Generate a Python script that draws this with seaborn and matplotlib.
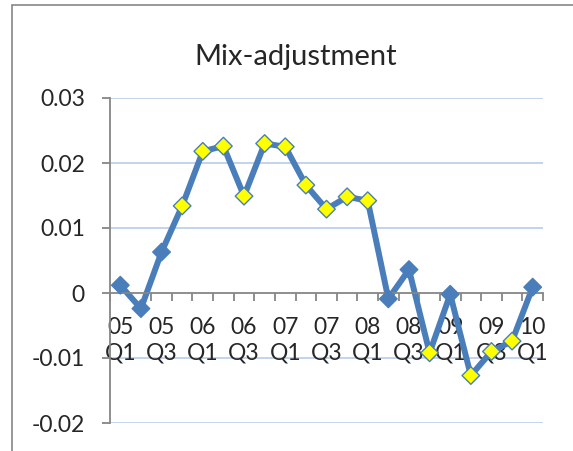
import pandas as pd
import matplotlib.pyplot as plt
import matplotlib.patches as mpatches
import seaborn as sns

# -------------------------------------------------
# data
quarters = ["05Q1", "05Q2", "05Q3", "05Q4", "06Q1", "06Q2", "06Q3", "06Q4",
            "07Q1", "07Q2", "07Q3", "07Q4", "08Q1", "08Q2", "08Q3", "08Q4",
            "09Q1", "09Q2", "09Q3", "09Q4", "10Q1"]
values = [0.0012, -0.0024, 0.0063, 0.0134, 0.0218, 0.0226, 0.0149, 0.0230,
          0.0225, 0.0166, 0.0129, 0.0148, 0.0142, -0.0009, 0.0036, -0.0092,
          -0.0002, -0.0127, -0.0090, -0.0074, 0.0009]
marker_group = ["plain", "plain", "plain", "hl", "hl", "hl", "hl", "hl",
                "hl", "hl", "hl", "hl", "hl", "plain", "plain", "hl",
                "plain", "hl", "hl", "hl", "plain"]
tick_labels = ["05\nQ1", "05\nQ3", "06\nQ1", "06\nQ3", "07\nQ1", "07\nQ3",
               "08\nQ1", "08\nQ3", "09\nQ1", "09\nQ3", "10\nQ1"]
y_ticks = [-0.02, -0.01, 0, 0.01, 0.02, 0.03]
y_tick_labels = ["-0.02", "-0.01", "0", "0.01", "0.02", "0.03"]

BLUE = "#4a7ebb"
GREY = "#868686"

df = pd.DataFrame({"pos": range(len(quarters)), "value": values,
                   "group": marker_group})

sns.set_style("white")
plt.rcParams["font.family"] = ["Lato", "DejaVu Sans"]

fig = plt.figure(figsize=(5.73, 4.51), dpi=100)
ax = fig.add_axes([110 / 573, 1 - 423 / 451, 433 / 573, 325 / 451])

# --- grid ---
for y in y_ticks:
    if y != 0:
        ax.axhline(y, color="#c3d3ec", lw=1.4, zorder=0)

# --- line + markers ---
sns.lineplot(data=df, x="pos", y="value", color=BLUE, lw=4.3, ax=ax, zorder=2)
sns.scatterplot(data=df, x="pos", y="value", hue="group",
                palette={"plain": BLUE, "hl": "#ffff00"}, marker="D", s=80,
                edgecolor=BLUE, linewidth=1.0, legend=False, ax=ax, zorder=3)

ax.set_xlim(-0.5, len(quarters) - 0.5)
ax.set_ylim(-0.02, 0.03)
ax.set_xlabel("")
ax.set_ylabel("")

# --- axes styling ---
ax.spines["top"].set_visible(False)
ax.spines["right"].set_visible(False)
ax.spines["bottom"].set_position(("data", 0))
for s in ["left", "bottom"]:
    ax.spines[s].set_color(GREY)
    ax.spines[s].set_linewidth(1.3)

ax.set_yticks(y_ticks)
ax.set_yticklabels(y_tick_labels)
ax.tick_params(axis="y", direction="out", length=6, width=1.3, color=GREY,
               pad=12, labelsize=16.5, left=True)

ax.set_xticks(range(0, len(quarters), 2))
ax.set_xticklabels(tick_labels, linespacing=1.3)
ax.set_xticks([i - 0.5 for i in range(len(quarters) + 1)], minor=True)
ax.tick_params(axis="x", which="major", length=0, pad=17, labelsize=16.5,
               bottom=True)
ax.tick_params(axis="x", which="minor", direction="out", length=6, width=1.3,
               color=GREY, bottom=True)

# --- title and chart frame ---
fig.text(296 / 573, 1 - 57 / 451, "Mix-adjustment", ha="center", va="center",
         fontsize=21)
frame = mpatches.Rectangle((12 / 573, -0.2), 1.2, 1.2 - 5 / 451,
                           transform=fig.transFigure, fill=False,
                           edgecolor=GREY, lw=1.2)
fig.patches.append(frame)

fig.savefig("out.png", dpi=100)
